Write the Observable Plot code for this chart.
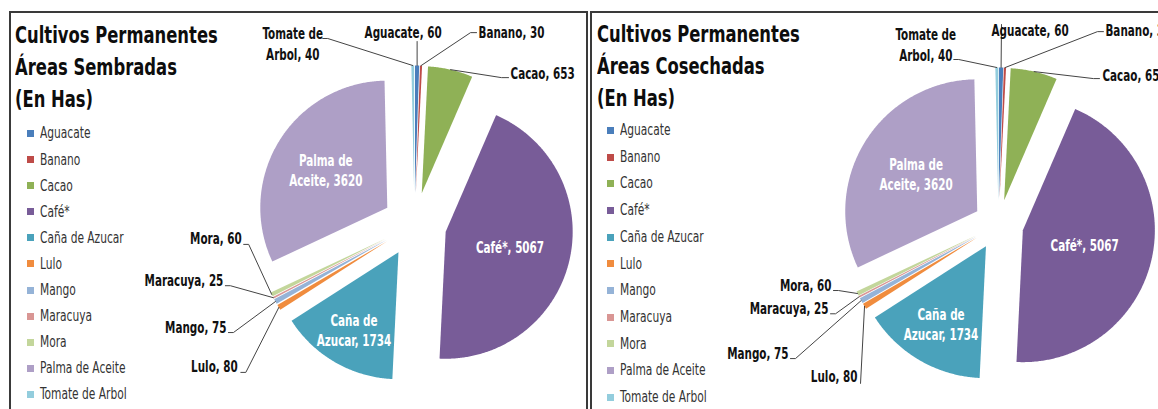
<!DOCTYPE html>
<html lang="es">
<head>
<meta charset="utf-8">
<title>Cultivos Permanentes</title>
<script src="https://cdn.jsdelivr.net/npm/d3@7"></script>
<script src="https://cdn.jsdelivr.net/npm/@observablehq/plot@0.6"></script>
<style>
  html, body { margin: 0; padding: 0; background: #fff; }
  body {
    position: relative; width: 1158px; height: 409px; overflow: hidden;
    font-family: "DejaVu Sans Condensed", "Liberation Sans", sans-serif;
  }
  .panel {
    position: absolute; top: 11px; height: 440px; box-sizing: border-box;
    border: 2px solid #3a3a3a; border-bottom: none;
  }
  .chart { position: absolute; top: 0; }
  .title {
    position: absolute; font-size: 22.5px; line-height: 32px; font-weight: bold;
    color: #0d0d0d; white-space: nowrap; transform-origin: 0 0;
  }
  .legend { position: absolute; font-size: 16px; color: #333; }
  .legend .item { position: relative; white-space: nowrap; }
  .legend .name { display: inline-block; transform-origin: 0 50%; }
  .legend .swatch { position: absolute; left: 0; width: 7px; height: 7px; }
</style>
</head>
<body>
<script>
// Crops, in the order the slices run clockwise from twelve o'clock.
const crops = [
  "Aguacate", "Banano", "Cacao", "Café*", "Caña de Azucar", "Lulo",
  "Mango", "Maracuya", "Mora", "Palma de Aceite", "Tomate de Arbol"
];

// Hectares per crop.
const sembradas  = [60, 30, 653, 5067, 1734, 80, 75, 25, 60, 3620, 40];
const cosechadas = [60, 30, 653, 5067, 1734, 80, 75, 25, 60, 3620, 40];

// Slice colours, one per crop.
const palette = [
  "#4a7ebb", "#be4b48", "#8fb156", "#785c98", "#4aa2bb", "#f08c3e",
  "#95b3d7", "#d99694", "#c3d69b", "#ae9fc6", "#93cddd"
];

const FONT = '"DejaVu Sans Condensed", "Liberation Sans", sans-serif';
const PAGE_H = 409;
// Horizontal squeeze giving the narrow lettering of the labels and titles.
const SQUEEZE_LABEL = 0.77, SQUEEZE_TITLE = 0.81, SQUEEZE_LEGEND = 0.74;

// Label layout: callouts are offset (px) from the outer edge of their slice,
// labels drawn inside a slice sit at a fraction of the radius along its bisector.
const layoutSembradas = {
  "Tomate de Arbol": {anchor: "middle", dx: -120, dy: -6,  leader: [[-90, -27], [-85, -27]]},
  "Aguacate":        {anchor: "middle", dx: -14,  dy: -28, leader: [[0, -24]]},
  "Banano":          {anchor: "start",  dx: 57.5, dy: -28, leader: [[55.5, -33], [49.5, -33]]},
  "Cacao":           {anchor: "start",  dx: 60,   dy: 9,   leader: [[58, 8], [51, 8]]},
  "Lulo":            {anchor: "end",    dx: -41,  dy: 65,  leader: [[-38, 65], [-33, 65]]},
  "Mango":           {anchor: "end",    dx: -49,  dy: 31,  leader: [[-47, 31], [-42, 31]]},
  "Maracuya":        {anchor: "end",    dx: -50,  dy: -12, leader: [[-48, -12], [-43, -12]]},
  "Mora":            {anchor: "end",    dx: -30,  dy: -50, leader: [[-28, -50], [-23, -50]]},
  "Palma de Aceite": {inside: 0.57},
  "Café*":           {inside: 0.52},
  "Caña de Azucar":  {inside: 0.70}
};

const layoutCosechadas = {
  "Tomate de Arbol": {anchor: "middle", dx: -71,  dy: -7,  leader: [[-43, -8], [-38, -8]]},
  "Aguacate":        {anchor: "middle", dx: 29,   dy: -32, leader: [[0.4, -43]]},
  "Banano":          {anchor: "start",  dx: 100.5, dy: -32, leader: [[98.5, -36], [92.5, -36]]},
  "Cacao":           {anchor: "start",  dx: 68.4, dy: 9,   leader: [[65.4, 7], [59.4, 7]]},
  "Lulo":            {anchor: "end",    dx: -7,   dy: 76,  leader: [[-4, 77]]},
  "Mango":           {anchor: "end",    dx: -72.7, dy: 58, leader: [[-70.7, 58], [-65.7, 58]]},
  "Maracuya":        {anchor: "end",    dx: -30.6, dy: 17, leader: [[-28.6, 17], [-23.6, 17]]},
  "Mora":            {anchor: "end",    dx: -26,  dy: -3,  leader: [[-24, -3], [-19, -3]]},
  "Palma de Aceite": {inside: 0.545},
  "Café*":           {inside: 0.48},
  "Caña de Azucar":  {inside: 0.68}
};

const panels = [
  {
    title: ["Cultivos Permanentes", "Áreas Sembradas", "(En Has)"],
    values: sembradas, layout: layoutSembradas,
    frame: {left: 9, width: 579},
    titleX: 15, titleBaseline: 43,
    legendX: 27, legendBaseline: 139, legendStep: 26.1,
    pie: {cx: 414, cy: 224, r: 127, explode: 32}
  },
  {
    title: ["Cultivos Permanentes", "Áreas Cosechadas", "(En Has)"],
    values: cosechadas, layout: layoutCosechadas,
    frame: {left: 590, width: 620},
    titleX: 597, titleBaseline: 42,
    legendX: 607, legendBaseline: 136, legendStep: 26.7,
    pie: {cx: 998, cy: 224, r: 132, explode: 25}
  }
];

// Vertical distance from the top of a line box to its baseline (DejaVu metrics).
function baselineOffset(fontSize, lineHeight) {
  return (lineHeight - 1.164 * fontSize) / 2 + 0.928 * fontSize;
}

function labelText(crop, value) {
  return crop.replace(" de ", " de\n") + ", " + value;
}

// Narrow each text of the chart around its own anchor point.
function squeezeTexts(svg, sx) {
  svg.querySelectorAll("text").forEach(t => {
    const tr = t.getAttribute("transform");
    if (tr && tr.includes("translate")) {
      t.setAttribute("transform", `${tr} scale(${sx},1)`);
    } else {
      const x = +(t.getAttribute("x") || 0), y = +(t.getAttribute("y") || 0);
      t.removeAttribute("x"); t.removeAttribute("y");
      t.setAttribute("transform", `translate(${x},${y}) scale(${sx},1)`);
    }
  });
}

function drawPanel(p) {
  // Frame
  const frame = document.createElement("div");
  frame.className = "panel";
  frame.style.left = p.frame.left + "px";
  frame.style.width = p.frame.width + "px";
  document.body.appendChild(frame);

  // Pie
  const W = Math.min(p.frame.width, 1158 - p.frame.left);
  const {cx, cy, r, explode} = p.pie;
  const dir = t => [Math.sin(t), -Math.cos(t)];
  const arcs = d3.pie().sort(null).value(d => d)(p.values);
  const slices = arcs.map((a, i) => ({
    crop: crops[i], value: p.values[i],
    a0: a.startAngle, a1: a.endAngle, mid: (a.startAngle + a.endAngle) / 2
  }));

  const wedges = slices.flatMap(s => {
    const [ux, uy] = dir(s.mid);
    const ox = explode * ux, oy = explode * uy;
    const n = Math.max(2, Math.ceil((s.a1 - s.a0) / (Math.PI / 360)));
    const pts = [{crop: s.crop, x: ox, y: oy}];
    for (let k = 0; k <= n; k++) {
      const t = s.a0 + (s.a1 - s.a0) * k / n;
      pts.push({crop: s.crop, x: ox + r * Math.sin(t), y: oy - r * Math.cos(t)});
    }
    return pts;
  });

  const callouts = [], leaders = [], insides = [];
  for (const s of slices) {
    const L = p.layout[s.crop];
    const [ux, uy] = dir(s.mid);
    const text = labelText(s.crop, s.value);
    if (L.inside !== undefined) {
      const rho = explode + L.inside * r;
      insides.push({crop: s.crop, x: rho * ux, y: rho * uy, text});
    } else {
      const ox = (explode + r) * ux, oy = (explode + r) * uy;
      callouts.push({crop: s.crop, x: ox + L.dx, y: oy + L.dy, text, anchor: L.anchor});
      L.leader.forEach(([dx, dy], k) => leaders.push({crop: s.crop, k, x: ox + dx, y: oy + dy}));
      leaders.push({crop: s.crop, k: L.leader.length, x: ox, y: oy});
    }
  }

  const calloutMarks = ["start", "middle", "end"].map(a =>
    Plot.text(callouts.filter(d => d.anchor === a), {
      x: "x", y: "y", text: "text", textAnchor: a, lineAnchor: "bottom",
      lineHeight: 1.4, fontSize: 15, fontWeight: "bold", fill: "#111"
    })
  );

  const chart = Plot.plot({
    width: W, height: PAGE_H, margin: 0,
    x: {domain: [p.frame.left - cx, p.frame.left + W - cx], range: [0, W], axis: null},
    y: {domain: [-cy, PAGE_H - cy], range: [0, PAGE_H], axis: null},
    color: {domain: crops, range: palette},
    style: {fontFamily: FONT, background: "transparent", overflow: "visible"},
    marks: [
      Plot.line(wedges, {x: "x", y: "y", z: "crop", fill: "crop", stroke: "none", curve: "linear-closed"}),
      Plot.line(leaders, {x: "x", y: "y", z: "crop", stroke: "#444", strokeWidth: 1}),
      ...calloutMarks,
      Plot.text(insides, {
        x: "x", y: "y", text: "text", textAnchor: "middle", lineAnchor: "middle",
        lineHeight: 1.35, fontSize: 15, fontWeight: "bold", fill: "#fff"
      })
    ]
  });
  squeezeTexts(chart, SQUEEZE_LABEL);
  chart.classList.add("chart");
  chart.style.left = p.frame.left + "px";
  document.body.appendChild(chart);

  // Title
  const title = document.createElement("div");
  title.className = "title";
  title.style.left = p.titleX + "px";
  title.style.top = (p.titleBaseline - baselineOffset(22.5, 32)) + "px";
  title.style.transform = `scaleX(${SQUEEZE_TITLE})`;
  title.innerHTML = p.title.join("<br>");
  document.body.appendChild(title);

  // Legend
  const legend = document.createElement("div");
  legend.className = "legend";
  const rowH = p.legendStep, base = baselineOffset(16, rowH);
  legend.style.left = p.legendX + "px";
  legend.style.top = (p.legendBaseline - base) + "px";
  crops.forEach((c, i) => {
    const item = document.createElement("div");
    item.className = "item";
    item.style.height = rowH + "px";
    item.style.lineHeight = rowH + "px";
    item.style.paddingLeft = "13px";
    const sw = document.createElement("span");
    sw.className = "swatch";
    sw.style.background = palette[i];
    sw.style.top = (base - 9) + "px";
    const name = document.createElement("span");
    name.className = "name";
    name.style.transform = `scaleX(${SQUEEZE_LEGEND})`;
    name.textContent = c;
    item.appendChild(sw);
    item.appendChild(name);
    legend.appendChild(item);
  });
  document.body.appendChild(legend);
}

panels.forEach(drawPanel);
</script>
</body>
</html>
